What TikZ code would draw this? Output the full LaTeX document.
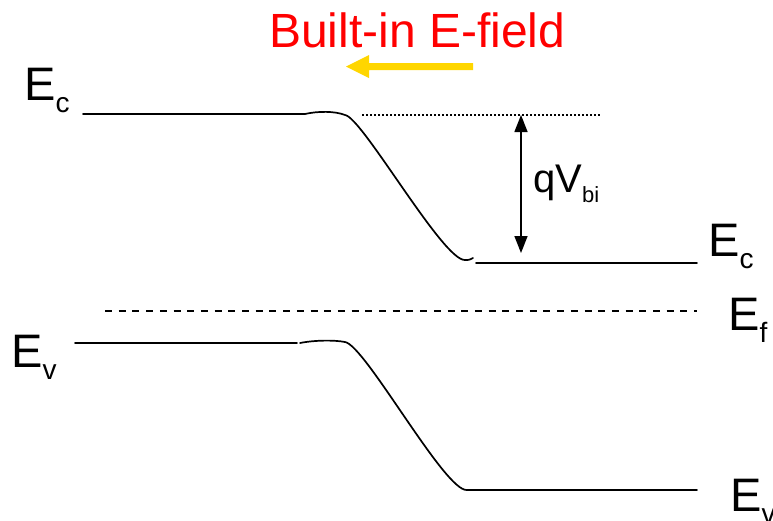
\documentclass[tikz,border=0pt]{standalone}
\usepackage{fontspec}
\setmainfont{Liberation Sans}
\usetikzlibrary{arrows.meta}
\definecolor{fieldred}{RGB}{255,0,0}
\definecolor{fieldgold}{RGB}{255,214,0}
\newcommand\bandlbl[2]{E\raisebox{-12pt}{\fontsize{28}{28}\selectfont #2}}
\tikzset{
  band/.style={line width=1.7pt, line cap=round, line join=round},
  lbl/.style={anchor=base west, inner sep=0pt, font=\fontsize{47}{47}\selectfont},
  dimarrow/.style={line width=1.5pt, {Triangle[length=17pt,width=13pt]}-{Triangle[length=17pt,width=13pt]}},
}
\begin{document}
\begin{tikzpicture}[x=1pt,y=-1pt]
\useasboundingbox (0,0) rectangle (773,520);
% title and field arrow
\node[lbl, text=fieldred, font=\fontsize{48}{48}\selectfont] (title) at (269,47) {Built-in E-field};
\fill[fieldgold] (473,63) -- (369,63) -- (369,55) -- (346,66.5) -- (369,78) -- (369,70) -- (473,70) -- cycle;
% conduction band
\draw[band] (83,114) -- (305,114) .. controls (318,111) and (335,111) .. (345,115)
  .. controls (362,117) and (443,261) .. (465,260) .. controls (469,260) .. (473,258);
\draw[band] (476,263) -- (697,263);
% valence band
\draw[band] (75,343) -- (297,343);
\draw[band] (300,343) .. controls (315,340) and (335,340) .. (345,342)
  .. controls (365,345) and (445,492) .. (467,490) -- (697,490);
% Fermi level
\draw[line width=1.5pt, dash pattern=on 7pt off 6.7pt] (105,311) -- (697,311);
% reference dotted
\draw[line width=1.6pt, dash pattern=on 2pt off 2pt] (362,115) -- (600,115);
% qVbi
\coordinate (vtop) at (521,115);
\coordinate (vbot) at (521,253);
\draw[dimarrow] (vtop) -- (vbot);
\node[lbl, font=\fontsize{40}{40}\selectfont] (qv) at (533,192) {qV\raisebox{-10pt}{\fontsize{22}{22}\selectfont bi}};
% band labels
\node[lbl] (ecl) at (24,100) {\bandlbl{E}{c}};
\node[lbl] (evl) at (11,367) {\bandlbl{E}{v}};
\node[lbl] (ecr) at (708,256) {\bandlbl{E}{c}};
\node[lbl] (ef) at (728,330) {\bandlbl{E}{f}};
\node[lbl] (evr) at (730,511) {\bandlbl{E}{v}};
\end{tikzpicture}
\end{document}
